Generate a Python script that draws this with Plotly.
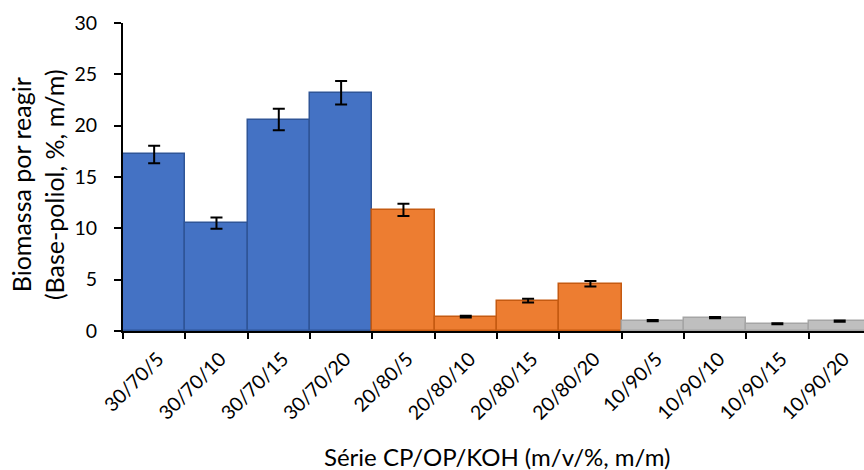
import plotly.graph_objects as go

# Biomass left unreacted per CP/OP/KOH series
series_30_70 = ["30/70/5", "30/70/10", "30/70/15", "30/70/20"]
series_20_80 = ["20/80/5", "20/80/10", "20/80/15", "20/80/20"]
series_10_90 = ["10/90/5", "10/90/10", "10/90/15", "10/90/20"]

values_30_70 = [17.2, 10.5, 20.6, 23.2]
values_20_80 = [11.8, 1.4, 2.95, 4.6]
values_10_90 = [1.0, 1.3, 0.7, 0.97]

errors_30_70 = [0.85, 0.55, 1.05, 1.15]
errors_20_80 = [0.6, 0.08, 0.18, 0.27]
errors_10_90 = [0.06, 0.06, 0.05, 0.06]

categories = series_30_70 + series_20_80 + series_10_90

groups = [
    (series_30_70, values_30_70, errors_30_70, "#4472C4", "#2F5597"),
    (series_20_80, values_20_80, errors_20_80, "#ED7D31", "#C55A11"),
    (series_10_90, values_10_90, errors_10_90, "#BFBFBF", "#A5A5A5"),
]

fig = go.Figure()
for cats, vals, errs, fill, edge in groups:
    fig.add_trace(go.Bar(
        x=cats, y=vals, width=1.0,
        marker=dict(color=fill, line=dict(color=edge, width=1.5)),
        error_y=dict(type="data", array=errs, visible=True,
                     color="black", thickness=2, width=6),
        showlegend=False,
    ))

font_family = "Lato"

fig.update_layout(
    width=864, height=470,
    margin=dict(l=123, r=0, t=23, b=139),
    paper_bgcolor="white", plot_bgcolor="white",
    barmode="overlay", bargap=0,
    font=dict(family=font_family, size=19, color="black"),
    annotations=[
        dict(text="Série CP/OP/KOH (m/v/%, m/m)", xref="paper", yref="paper",
             x=0.505, y=-0.406, xanchor="center", yanchor="middle",
             showarrow=False, font=dict(size=24)),
        dict(text="Biomassa por reagir<br>(Base-poliol, %, m/m)",
             xref="paper", yref="paper", x=-0.116, y=0.474,
             xanchor="center", yanchor="middle", textangle=-90,
             showarrow=False, font=dict(size=25)),
    ],
)
fig.update_xaxes(
    type="category", categoryorder="array", categoryarray=categories,
    range=[-0.5, 11.39], tickangle=-45, tickson="boundaries",
    ticks="outside", ticklen=6, tickwidth=1.5, tickcolor="black",
    ticklabelstandoff=7, ticklabelshift=4,
    showline=True, linecolor="black", linewidth=2,
    showgrid=False, tickfont=dict(size=19.5),
)
fig.update_yaxes(
    range=[0, 30], dtick=5,
    ticks="outside", ticklen=7, tickwidth=1.5, tickcolor="black",
    ticklabelstandoff=13,
    showline=True, linecolor="black", linewidth=2,
    showgrid=False, zeroline=False, tickfont=dict(size=19.5),
)

fig.write_html("out.html")
